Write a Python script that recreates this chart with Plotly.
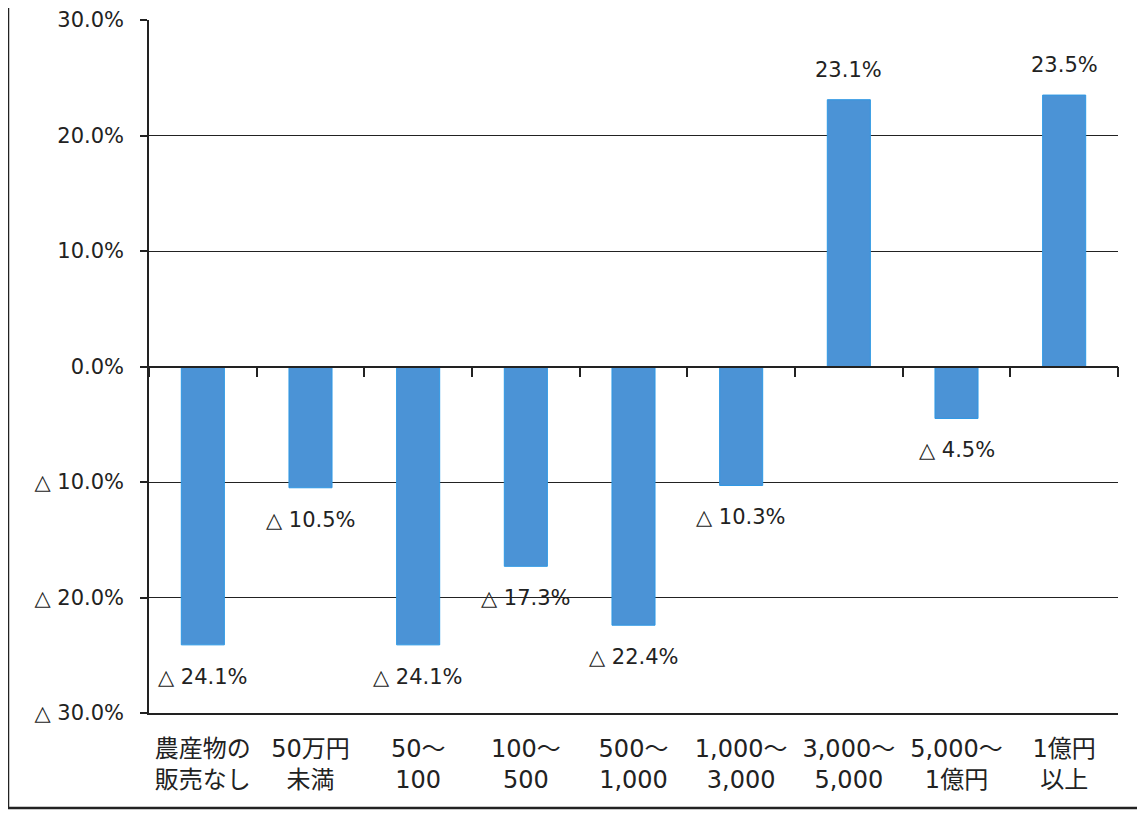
import plotly.graph_objects as go

categories = ["農産物の<br>販売なし", "50万円<br>未満", "50～<br>100", "100～<br>500", "500～<br>1,000",
              "1,000～<br>3,000", "3,000～<br>5,000", "5,000～<br>1億円", "1億円<br>以上"]
values = [-24.1, -10.5, -24.1, -17.3, -22.4, -10.3, 23.1, -4.5, 23.5]
y_tickvals = [30, 20, 10, 0, -10, -20, -30]
y_ticktext = ["30.0%", "20.0%", "10.0%", "0.0%", "△ 10.0%", "△ 20.0%", "△ 30.0%"]


def fmt(v):
    return f"{v:.1f}%" if v >= 0 else f"△ {abs(v):.1f}%"


labels = [fmt(v) for v in values]
FONT = "DejaVu Sans, Noto Sans CJK JP, sans-serif"
TXT = "#222222"

fig = go.Figure()
fig.add_trace(go.Bar(
    x=categories, y=values, width=0.4,
    marker=dict(color="#4b93d6", line=dict(color="#2e98e4", width=1)),
    hoverinfo="skip", showlegend=False,
))
# invisible helper trace so the zero-level category axis (with boundary ticks) renders
fig.add_trace(go.Scatter(
    x=categories, y=values, xaxis="x2", mode="markers",
    marker=dict(opacity=0), hoverinfo="skip", showlegend=False,
))

annotations = [
    dict(x=c, y=v, xref="x", yref="y", text=t, showarrow=False,
         yshift=30 if v >= 0 else -32,
         font=dict(family=FONT, size=21, color=TXT))
    for c, v, t in zip(categories, values, labels)
]

# page is rendered with an 8px body margin; margins below compensate
L, R, T, B = 141, 35, 12, 110
PW = 1145 - L - R
PH = 815 - T - B

fig.update_layout(
    width=1145, height=815,
    margin=dict(l=L, r=R, t=T, b=B, autoexpand=False),
    paper_bgcolor="white", plot_bgcolor="white",
    font=dict(family=FONT, size=21, color=TXT),
    annotations=annotations,
    xaxis=dict(
        type="category", range=[-0.5, 8.5], automargin=False,
        showline=True, linecolor="#222", linewidth=1.5,
        ticks="", showgrid=False,
        tickfont=dict(family=FONT, size=24, color=TXT),
        ticklabelstandoff=13,
    ),
    xaxis2=dict(
        type="category", range=[-0.5, 8.5], overlaying="x",
        anchor="free", position=0.5, automargin=False,
        showline=True, linecolor="#222", linewidth=1.5,
        ticks="outside", ticklen=10, tickwidth=1.5, tickcolor="#222",
        tickson="boundaries", showticklabels=False, showgrid=False,
    ),
    yaxis=dict(
        range=[-30, 30], tickvals=y_tickvals, ticktext=y_ticktext, automargin=False,
        showline=True, linecolor="#222", linewidth=1.5,
        ticks="outside", ticklen=7, tickwidth=1.5, tickcolor="#222",
        showgrid=True, gridcolor="#222", gridwidth=1.3,
        zeroline=False,
        tickfont=dict(family=FONT, size=21, color=TXT),
        ticklabelstandoff=12,
    ),
    shapes=[
        dict(type="line", xref="paper", yref="paper",
             x0=-L / PW, x1=-L / PW, y0=-(B - 15) / PH, y1=1.1,
             line=dict(color="#222", width=2.5)),
        dict(type="line", xref="paper", yref="paper",
             x0=-L / PW, x1=1.1, y0=-(B - 15) / PH, y1=-(B - 15) / PH,
             line=dict(color="#222", width=2.5)),
    ],
)

fig.write_html("out.html")
